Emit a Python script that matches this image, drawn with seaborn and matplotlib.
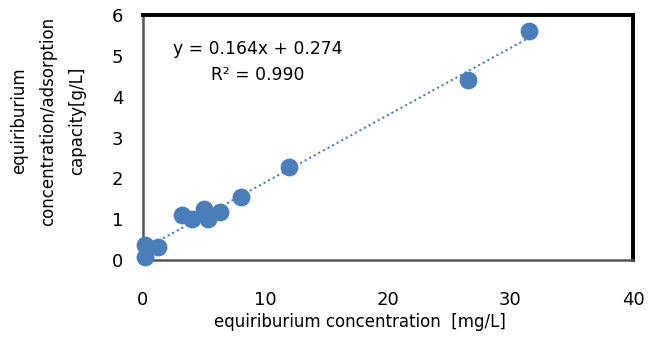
import matplotlib
matplotlib.use("Agg")
import matplotlib.pyplot as plt
import seaborn as sns
import numpy as np
import pandas as pd

conc = [0.15, 0.15, 1.2, 3.2, 4.0, 5.0, 5.3, 6.3, 8.0, 11.9, 26.5, 31.5]
ratio = [0.08, 0.37, 0.33, 1.09, 1.0, 1.24, 1.0, 1.17, 1.55, 2.27, 4.4, 5.6]
xticks = [0, 10, 20, 30, 40]
yticks = [0, 1, 2, 3, 4, 5, 6]
eq_text = "y = 0.164x + 0.274\nR² = 0.990"
xlabel = "equiriburium concentration  [mg/L]"
ylabel = "equiriburium\nconcentration/adsorption\ncapacity[g/L]"

df = pd.DataFrame({"conc": conc, "ratio": ratio})

sns.set_style("white")
plt.rcParams['font.family'] = ['DejaVu Sans']
plt.rcParams['text.color'] = 'black'
plt.rcParams['axes.labelcolor'] = 'black'
plt.rcParams['xtick.color'] = 'black'
plt.rcParams['ytick.color'] = 'black'

L, R, T, B = 143, 633, 15, 260
fig = plt.figure(figsize=(6.49, 3.38), dpi=100)
ax = fig.add_axes([L/649, 1-B/338, (R-L)/649, (B-T)/338])

blue = "#4A7EBB"
sns.regplot(data=df, x="conc", y="ratio", ax=ax, scatter=False, ci=None,
            line_kws=dict(color=blue, linestyle=(0, (1, 1.5)), lw=1.5))
sns.scatterplot(data=df, x="conc", y="ratio", ax=ax, s=165, color=blue,
                edgecolor=blue, linewidth=0, zorder=3, clip_on=False)

ax.set_xlim(0, 40)
ax.set_ylim(0, 6)
ax.set_xticks(xticks)
ax.set_yticks(yticks)
ax.tick_params(axis='both', direction='in', length=5, color='#b0b0b0',
               labelsize=13, labelcolor='black')
ax.tick_params(axis='x', pad=22)
ax.tick_params(axis='y', pad=14)

for s in ['top', 'right']:
    ax.spines[s].set_color('black')
    ax.spines[s].set_linewidth(2.8)
for s in ['left', 'bottom']:
    ax.spines[s].set_color('#555555')
    ax.spines[s].set_linewidth(1.8)

ax.set_xlabel(xlabel, fontsize=12, color='black')
ax.xaxis.set_label_coords((360-L)/(R-L), -(322-B)/(B-T))
ax.xaxis.label.set_va('center')
ax.set_ylabel("")
fig.text(48/649, 1-121/338, ylabel, rotation=90, ha='center', va='center',
         fontsize=12, linespacing=1.8, color='black')

ax.text((258-L)/(R-L), 0.807, eq_text, transform=ax.transAxes, ha='center', va='center',
        fontsize=12.3, linespacing=1.6, color='black')

fig.savefig("out.png", dpi=100)
